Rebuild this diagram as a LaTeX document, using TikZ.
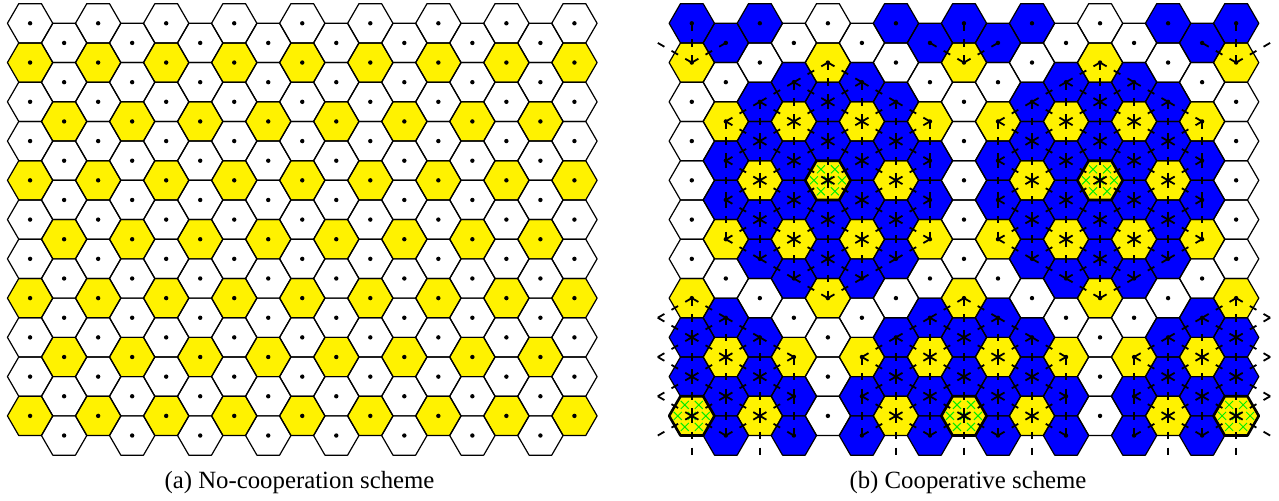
\documentclass[tikz,border=0pt]{standalone}
\usepackage{fontspec}
\setmainfont{Liberation Serif}
\usepackage{xcolor}
\definecolor{reuseyellow}{RGB}{255,242,0}
\definecolor{coopblue}{RGB}{0,0,255}
\definecolor{hatchgreen}{RGB}{0,235,0}
% hex distance from the current cell (\col,\ax) to a cluster centre
\newcommand{\hd}[2]{max(abs(\col-(#1)),abs(\ax-(#2)),abs(\col-(#1)+\ax-(#2)))}

\begin{document}
\begin{tikzpicture}[x=0.5pt,y=-0.5pt,
  hexcell/.pic={\path[pic actions] (-22.67,0) -- (-11.33,-19.63) -- (11.33,-19.63) -- (22.67,0) -- (11.33,19.63) -- (-11.33,19.63) -- cycle;},
  rim/.style={draw=black,line width=0.6pt,line join=round},
  centrerim/.style={draw=black,line width=1.3pt,line join=round},
  link/.style={line width=0.9pt,dash pattern=on 3.8pt off 4.115pt},
  hatch/.style={draw=hatchgreen,line width=0.5pt},
  caption/.style={font=\fontsize{12.4}{14}\selectfont,anchor=base}]
\useasboundingbox (0,0) rectangle (1279,501);

% cell centres
\foreach \col in {0,...,16}
  \foreach \row in {0,...,10}{
    \pgfmathsetmacro\cy{23.3+39.26*\row+19.63*mod(\col,2)}
    \coordinate (L-\col-\row) at ({30.1+34.02*\col},\cy);
  }
\foreach \col in {-1,...,17}
  \foreach \row in {0,...,11}{
    \pgfmathtruncatemacro\ci{\col+1}
    \pgfmathsetmacro\cy{23.3+39.26*\row+19.63*abs(mod(\col,2))}
    \coordinate (R-\ci-\row) at ({691.8+34.02*\col},\cy);
  }

% (a) no cooperation
\foreach \col in {0,...,16}
  \foreach \row in {0,...,10}{
    \pgfmathtruncatemacro\ru{mod(\row+2-mod(\col,2),3)==0}
    \ifnum\ru=1 \def\cellfill{reuseyellow}\else\def\cellfill{white}\fi
    \pic[fill=\cellfill] at (L-\col-\row) {hexcell};
  }
\foreach \col in {0,...,16}
  \foreach \row in {0,...,10}{
    \pic[rim] at (L-\col-\row) {hexcell};
    \fill (L-\col-\row) circle (1.1pt);
  }

% (b) cooperative clusters
\foreach \col in {0,...,16}
  \foreach \row in {0,...,10}{
    \pgfmathtruncatemacro\ci{\col+1}
    \pgfmathtruncatemacro\ax{\row-floor(\col/2)}
    \pgfmathtruncatemacro\dmin{min(\hd{4}{2},\hd{12}{-2},\hd{0}{10},\hd{8}{6},\hd{16}{2},\hd{0}{-2},\hd{8}{-6},\hd{16}{-10})}
    \pgfmathtruncatemacro\ru{mod(\row+2-mod(\col,2),3)==0}
    \ifnum\dmin>3 \def\cellfill{white}\else
      \ifnum\ru=1 \def\cellfill{reuseyellow}\else\def\cellfill{coopblue}\fi\fi
    \pic[fill=\cellfill] at (R-\ci-\row) {hexcell};
  }
\foreach \col in {1,...,17}
  \foreach \row in {0,...,10}
    \pic[rim] at (R-\col-\row) {hexcell};

\foreach \hc/\hr in {1/10,9/10,17/10,5/4,13/4}{
  \begin{scope}[shift={(R-\hc-\hr)}]
    \clip (-22.67,0) -- (-11.33,-19.63) -- (11.33,-19.63) -- (22.67,0) -- (11.33,19.63) -- (-11.33,19.63) -- cycle;
    \foreach \hx/\hy in {-7/-11,7/-11,-14/0,14/0,0/0,-7/11,7/11}
      \draw[hatch] (\hx-4,\hy-4) -- (\hx+4,\hy+4) (\hx-4,\hy+4) -- (\hx+4,\hy-4);
  \end{scope}
  \pic[centrerim] at (R-\hc-\hr) {hexcell};
}
\foreach \col in {1,...,17}
  \foreach \row in {0,...,10}
    \fill (R-\col-\row) circle (1.1pt);

% links inside each cluster
\foreach \kq/\kr in {4/2,12/-2,0/10,8/6,16/2}{
  \foreach \dq in {-3,...,3}{
    \foreach \dr in {-3,...,3}{
      \pgfmathtruncatemacro\inhex{abs(\dq+\dr)<=3}
      \ifnum\inhex=1
        \foreach \eq/\er in {0/1,1/0,1/-1}{
          \pgfmathtruncatemacro\nq{(\dq)+(\eq)}
          \pgfmathtruncatemacro\nr{(\dr)+(\er)}
          \pgfmathtruncatemacro\nin{(abs(\nq)<=3)&&(abs(\nr)<=3)&&(abs(\nq+\nr)<=3)}
          \ifnum\nin=1
            \pgfmathtruncatemacro\ca{(\kq)+(\dq)}
            \pgfmathtruncatemacro\ra{(\kr)+(\dr)+floor((\ca)/2)}
            \pgfmathtruncatemacro\cb{(\kq)+(\nq)}
            \pgfmathtruncatemacro\rb{(\kr)+(\nr)+floor((\cb)/2)}
            \pgfmathtruncatemacro\vis{((\ra>=0)&&(\rb>=0)&&(\ra<=10)&&(\rb<=10)&&(\ca>=-1)&&(\cb>=-1)&&(\ca<=17)&&(\cb<=17)&&(((\ca>=0)&&(\ca<=16))||((\cb>=0)&&(\cb<=16))))||((\ca==\cb)&&(\ra==10)&&(\ca>=0)&&(\ca<=16)&&(mod(\ca,2)==0))}
            \ifnum\vis=1
              \pgfmathtruncatemacro\cai{\ca+1}
              \pgfmathtruncatemacro\cbi{\cb+1}
              \draw[link] (R-\cai-\ra) -- (R-\cbi-\rb);
            \fi
          \fi
        }
      \fi
    }
  }
}
% clusters cut by the top border
\foreach \tc in {1,9,17}{
  \pgfmathtruncatemacro\tl{\tc-1}
  \pgfmathtruncatemacro\tr{\tc+1}
  \draw[link] (R-\tc-1) -- (R-\tc-0);
  \draw[link] (R-\tc-1) -- (R-\tl-0);
  \draw[link] (R-\tc-1) -- (R-\tr-0);
}

\node[caption] (capa) at (299.5,489) {(a) No-cooperation scheme};
\node[caption] (capb) at (968,489) {(b) Cooperative scheme};
\end{tikzpicture}
\end{document}
